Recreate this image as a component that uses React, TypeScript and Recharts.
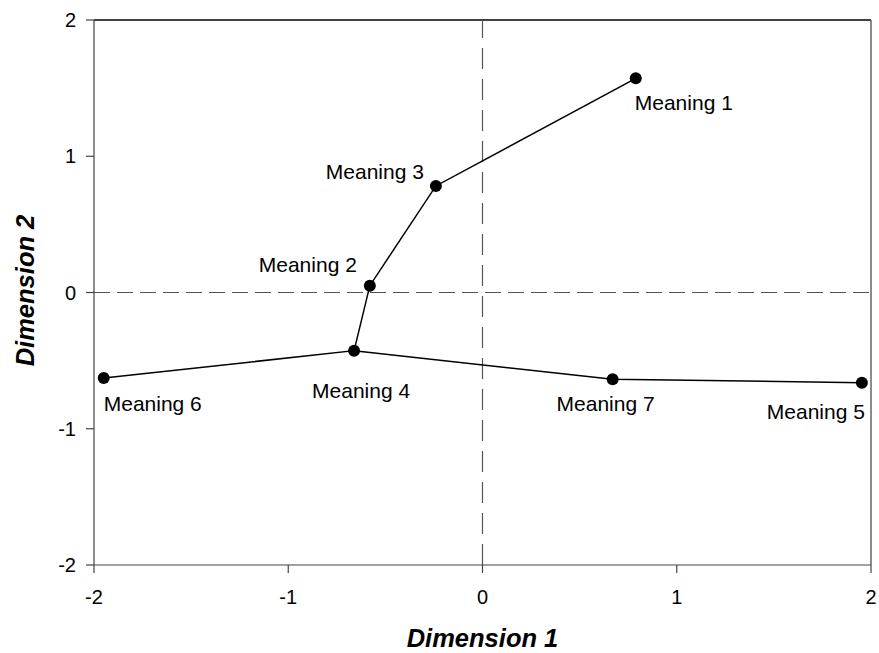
import React from "react";
import {
  ScatterChart,
  Scatter,
  XAxis,
  YAxis,
  ReferenceLine,
} from "recharts";

// ---- data ----
const meanings = ["Meaning 1", "Meaning 2", "Meaning 3", "Meaning 4", "Meaning 5", "Meaning 6", "Meaning 7"];
const dimension1 = [0.789, -0.58, -0.24, -0.661, 1.953, -1.95, 0.67];
const dimension2 = [1.572, 0.05, 0.782, -0.427, -0.662, -0.628, -0.637];
const pathUpper = ["Meaning 6", "Meaning 4", "Meaning 2", "Meaning 3", "Meaning 1"];
const pathLower = ["Meaning 4", "Meaning 7", "Meaning 5"];
const axisTicks = [-2, -1, 0, 1, 2];
const xTitle = "Dimension 1";
const yTitle = "Dimension 2";

// label placement (style only)
const labelPlacement: Record<string, { anchor: string; dx: number; dy: number }> = {
  "Meaning 1": { anchor: "start", dx: -1, dy: 32 },
  "Meaning 2": { anchor: "end", dx: -13, dy: -14 },
  "Meaning 3": { anchor: "end", dx: -12, dy: -7 },
  "Meaning 4": { anchor: "middle", dx: 7, dy: 47 },
  "Meaning 5": { anchor: "end", dx: 3, dy: 36 },
  "Meaning 6": { anchor: "start", dx: 0, dy: 33 },
  "Meaning 7": { anchor: "middle", dx: -7, dy: 32 },
};

const points = meanings.map((name, i) => ({ name, x: dimension1[i], y: dimension2[i] }));
const byName = (n: string) => points.find((p) => p.name === n)!;
const upperData = pathUpper.map(byName);
const lowerData = pathLower.map(byName);

const FONT = "'Liberation Sans', Arial, Helvetica, sans-serif";

const PointShape = (props: any) => {
  const { cx, cy, payload } = props;
  const pl = labelPlacement[payload.name] || { anchor: "start", dx: 0, dy: 30 };
  return (
    <g>
      <circle cx={cx} cy={cy} r={6} fill="#000" />
      <text
        x={cx + pl.dx}
        y={cy + pl.dy}
        textAnchor={pl.anchor as any}
        fontSize={21}
        fontFamily={FONT}
        fill="#000"
      >
        {payload.name}
      </text>
    </g>
  );
};

const NoShape = () => null;

const XTitle = (props: any) => {
  const vb = props.viewBox;
  return (
    <text
      x={vb.x + vb.width / 2}
      y={vb.y + 82}
      textAnchor="middle"
      fontSize={25.5}
      fontWeight="bold"
      fontStyle="italic"
      fontFamily={FONT}
      fill="#000"
    >
      {xTitle}
    </text>
  );
};

const YTitle = (props: any) => {
  const vb = props.viewBox;
  const x = 34;
  const y = vb.y + vb.height / 2 - 2;
  return (
    <text
      x={x}
      y={y}
      transform={`rotate(-90, ${x}, ${y})`}
      textAnchor="middle"
      fontSize={25.5}
      fontWeight="bold"
      fontStyle="italic"
      fontFamily={FONT}
      fill="#000"
    >
      {yTitle}
    </text>
  );
};

export default function App() {
  return (
    <div style={{ position: "absolute", left: 0, top: 0, width: 879, height: 653, background: "#fff" }}>
      <ScatterChart width={879} height={653} margin={{ top: 20, right: 8, left: 0, bottom: 0 }}>
        <XAxis
          type="number"
          dataKey="x"
          domain={[-2, 2]}
          ticks={axisTicks}
          allowDataOverflow
          height={88}
          tickSize={8}
          tickMargin={17}
          axisLine={{ stroke: "#444", strokeWidth: 1.2 }}
          tickLine={{ stroke: "#444", strokeWidth: 1.2 }}
          tick={{ fill: "#000", fontSize: 20, fontFamily: FONT }}
          label={<XTitle />}
        />
        <YAxis
          type="number"
          dataKey="y"
          domain={[-2, 2]}
          ticks={axisTicks}
          allowDataOverflow
          width={94}
          tickSize={8}
          tickMargin={10}
          axisLine={{ stroke: "#444", strokeWidth: 1.2 }}
          tickLine={{ stroke: "#444", strokeWidth: 1.2 }}
          tick={{ fill: "#000", fontSize: 20, fontFamily: FONT }}
          label={<YTitle />}
        />
        <ReferenceLine y={2} stroke="#000" strokeWidth={1.5} />
        <ReferenceLine x={2} stroke="#666" strokeWidth={1.5} />
        <ReferenceLine x={0} stroke="#555" strokeWidth={1.2} strokeDasharray="21 10" />
        <ReferenceLine y={0} stroke="#555" strokeWidth={1.2} strokeDasharray="16 7" />
        <Scatter
          data={upperData}
          line={{ stroke: "#000", strokeWidth: 1.5 }}
          shape={<NoShape />}
          isAnimationActive={false}
        />
        <Scatter
          data={lowerData}
          line={{ stroke: "#000", strokeWidth: 1.5 }}
          shape={<NoShape />}
          isAnimationActive={false}
        />
        <Scatter data={points} shape={<PointShape />} isAnimationActive={false} />
      </ScatterChart>
    </div>
  );
}
